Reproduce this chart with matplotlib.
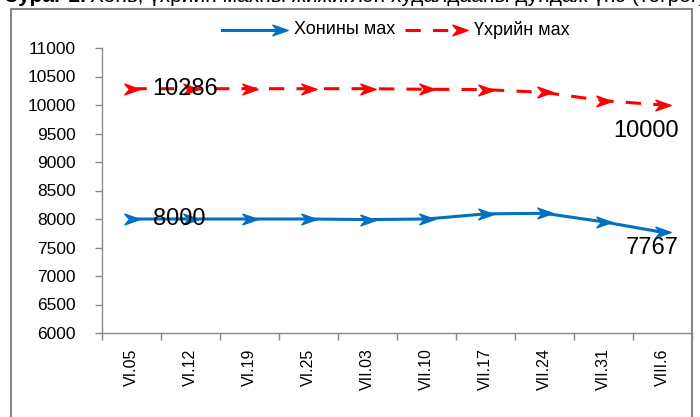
import matplotlib.pyplot as plt
from matplotlib.path import Path
from matplotlib.lines import Line2D
from matplotlib.patches import Rectangle

plt.rcParams['font.family'] = ['Liberation Sans', 'DejaVu Sans']

dates = ["VI.05", "VI.12", "VI.19", "VI.25", "VII.03", "VII.10",
         "VII.17", "VII.24", "VII.31", "VIII.6"]
mutton = [8000, 8000, 8000, 8000, 7990, 8000, 8090, 8100, 7950, 7767]
beef = [10286, 10286, 10286, 10286, 10286, 10276, 10270, 10220, 10076, 10000]
series_names = ["Хонины мах", "Үхрийн мах"]

blue = "#0070C0"
red = "#FF0000"

# notched arrowhead marker
arrow = Path([(1, 0), (-1, 0.7), (-0.4, 0), (-1, -0.7), (1, 0)],
             [Path.MOVETO, Path.LINETO, Path.LINETO, Path.LINETO, Path.CLOSEPOLY])

fig = plt.figure(figsize=(7, 4.17), dpi=100)
ax = fig.add_axes([102 / 700, 1 - 333 / 417, 590 / 700, 285 / 417])

x = list(range(len(dates)))
ax.plot(x, mutton, color=blue, lw=2.2, marker=arrow, ms=11, mec=blue, mfc=blue)
ax.plot(x, beef, color=red, lw=2.2, ls=(0, (5, 4)), marker=arrow, ms=11,
        mec=red, mfc=red)

ax.set_xlim(-0.5, len(dates) - 0.5)
ax.set_ylim(6000, 11000)
ax.set_yticks(range(6000, 11001, 500))
ax.tick_params(axis='y', labelsize=12.5, color="#888888", length=5, width=1, pad=14)
ax.set_xticks(x)
ax.set_xticklabels(dates, rotation=90, fontsize=11.5)
ax.set_xticks([i - 0.5 for i in range(len(dates) + 1)], minor=True)
ax.tick_params(axis='x', which='major', length=0, pad=11)
ax.tick_params(axis='x', which='minor', length=5, color="#888888", width=1)

for s in ["top", "right"]:
    ax.spines[s].set_visible(False)
for s in ["left", "bottom"]:
    ax.spines[s].set_color("#888888")
    ax.spines[s].set_linewidth(1)

# data labels
ax.annotate(str(beef[0]), (x[0], beef[0]), xytext=(21, 0), textcoords="offset pixels",
            ha="left", va="center", fontsize=17)
ax.annotate(str(mutton[0]), (x[0], mutton[0]), xytext=(21, 0), textcoords="offset pixels",
            ha="left", va="center", fontsize=17)
ax.annotate(str(beef[-1]), (x[-1], beef[-1]), xytext=(16, -26), textcoords="offset pixels",
            ha="right", va="center", fontsize=17)
ax.annotate(str(mutton[-1]), (x[-1], mutton[-1]), xytext=(16, -16), textcoords="offset pixels",
            ha="right", va="center", fontsize=17)

# legend drawn at top
ly = 1 - 30 / 417
fig.add_artist(Line2D([222 / 700, 282 / 700], [ly, ly], color=blue, lw=2.2))
fig.add_artist(Line2D([280 / 700], [ly], color=blue, marker=arrow, ms=11, ls="none"))
fig.text(294 / 700, ly, series_names[0], fontsize=13, va="center")
fig.add_artist(Line2D([405 / 700, 460 / 700], [ly, ly], color=red, lw=2.2, ls=(0, (5, 4))))
fig.add_artist(Line2D([460 / 700], [ly], color=red, marker=arrow, ms=11, ls="none"))
fig.text(474 / 700, ly, series_names[1], fontsize=13, va="center")

# chart border
fig.add_artist(Rectangle((11 / 700, -0.05), 681 / 700, 1.05 - 9 / 417,
                         transform=fig.transFigure, fill=False,
                         edgecolor="#888888", lw=1.5))

# caption, cut off at the top edge as in the source
fig.text(5 / 700, 1 + 3 / 417, "Зураг 2.", fontsize=15, fontweight="bold",
         va="center", ha="left")
fig.text(90 / 700, 1 + 3 / 417, "Хонь, үхрийн махны жижиглэн худалдааны дундаж үнэ (төгрөг)",
         fontsize=15, va="center", ha="left")

fig.savefig("out.png", dpi=100)
